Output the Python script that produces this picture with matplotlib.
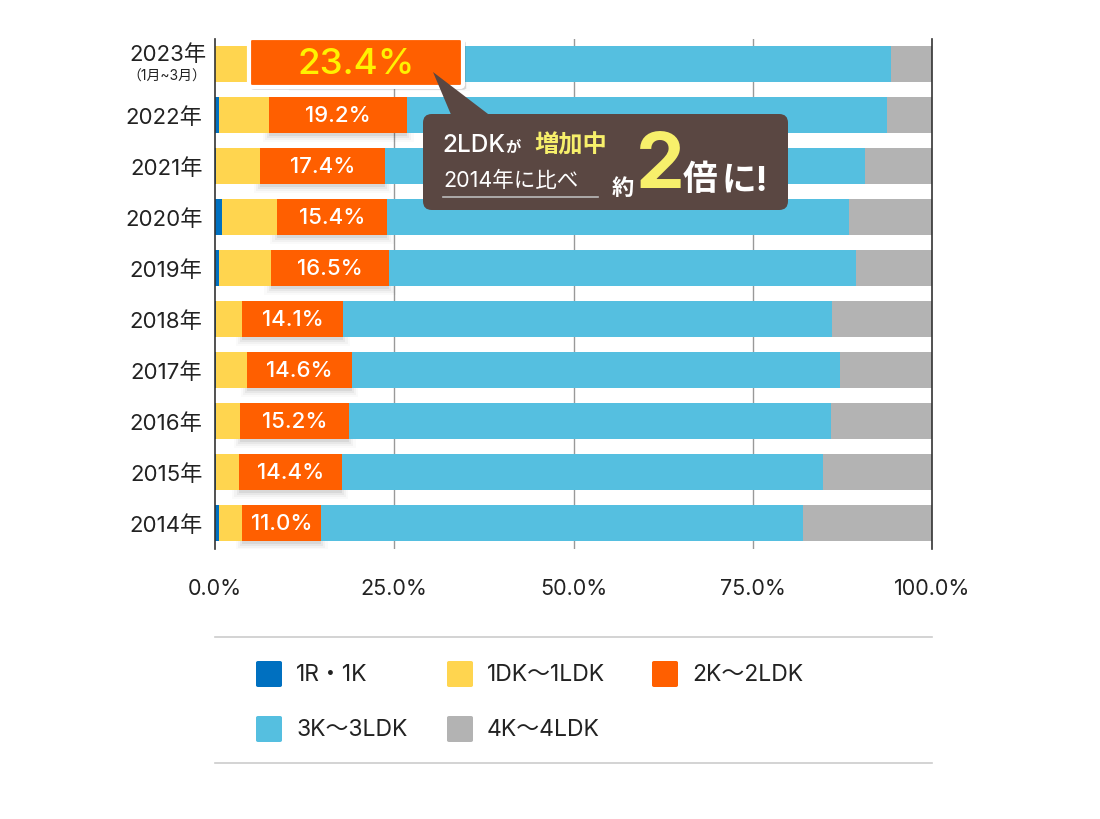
import matplotlib.pyplot as plt
from matplotlib.patches import FancyBboxPatch, Polygon
from matplotlib.lines import Line2D
import numpy as np

plt.rcParams['font.family'] = ['Inter', 'Noto Sans CJK JP', 'DejaVu Sans']

years = ["2023年", "2022年", "2021年", "2020年", "2019年",
         "2018年", "2017年", "2016年", "2015年", "2014年"]
r1k = [0.0, 0.5, 0.2, 1.0, 0.5, 0.2, 0.2, 0.2, 0.2, 0.5]
dk1 = [11.2, 7.1, 6.1, 7.6, 7.3, 3.6, 4.3, 3.3, 3.1, 3.3]
ldk2 = [23.4, 19.2, 17.4, 15.4, 16.5, 14.1, 14.6, 15.2, 14.4, 11.0]
ldk3 = [59.7, 66.9, 67.0, 64.4, 65.1, 68.2, 68.1, 67.2, 67.1, 67.2]
ldk4 = [5.7, 6.3, 9.3, 11.6, 10.6, 13.9, 12.8, 14.1, 15.2, 18.0]

names = ["1R・1K", "1DK～1LDK", "2K～2LDK", "3K～3LDK", "4K～4LDK"]
colors = ["#0070c0", "#ffd54f", "#ff5f00", "#55bfe0", "#b3b3b3"]
ticks = [0, 25, 50, 75, 100]

W, H = 1100, 820


def fx(px):
    return px / W


def fy(py):
    return 1 - py / H


fig = plt.figure(figsize=(11, 8.2), dpi=100)
ax = fig.add_axes([fx(215), fy(549.5), fx(932) - fx(215), fy(39.5) - fy(549.5)])

y = np.arange(len(years))
series = [r1k, dk1, ldk2, ldk3, ldk4]
left = np.zeros(len(years))
lefts = []
for vals, c in zip(series, colors):
    lefts.append(left.copy())
    ax.barh(y, vals, left=left, height=0.7, color=c, zorder=3)
    left = left + np.array(vals)

# soft shadow under the orange segments
orange_left = lefts[2]
for k, a in enumerate([0.06, 0.045, 0.03, 0.02]):
    ax.barh(y + 0.05 + 0.04 * k, np.array(ldk2) + 0.6 * k, left=orange_left - 0.3 * k,
            height=0.72, color="#000000", alpha=a, zorder=2, linewidth=0)

for i in range(1, len(years)):
    ax.text(orange_left[i] + ldk2[i] / 2, y[i], f"{ldk2[i]:.1f}%",
            ha="center", va="center", color="white", fontsize=16,
            fontweight="medium", zorder=5)

ax.set_xlim(0, 100)
ax.set_ylim(len(years) - 0.5, -0.5)
ax.set_xticks(ticks)
ax.set_xticklabels([f"{t:.1f}%" for t in ticks], fontsize=15.5, color="#222222")
ax.set_yticks(y)
ax.set_yticklabels([""] + years[1:], fontsize=16, color="#222222")
ax.tick_params(axis="both", length=0)
ax.tick_params(axis="x", pad=21)
ax.tick_params(axis="y", pad=9)
for s in ["top", "bottom"]:
    ax.spines[s].set_visible(False)
for s in ["left", "right"]:
    ax.spines[s].set_color("#333333")
    ax.spines[s].set_linewidth(1.2)
    ax.spines[s].set_zorder(6)
for t in ticks[1:-1]:
    ax.axvline(t, color="#999999", lw=1, zorder=1)

tr = ax.get_yaxis_transform()
ax.text(-0.0125, y[0] - 0.2, years[0], transform=tr, ha="right", va="center",
        fontsize=16, color="#222222")
ax.text(-0.0125, y[0] + 0.22, "（1月~3月）", transform=tr, ha="right", va="center",
        fontsize=10, color="#222222")

# 23.4% highlight box
fig.add_artist(FancyBboxPatch((fx(251), fy(91)), fx(466) - fx(251), fy(42) - fy(91),
                              boxstyle="round,pad=0,rounding_size=0.003",
                              transform=fig.transFigure, facecolor="#000000",
                              alpha=0.12, edgecolor="none", zorder=7))
fig.add_artist(FancyBboxPatch((fx(249), fy(88)), fx(463) - fx(249), fy(39) - fy(88),
                              boxstyle="round,pad=0,rounding_size=0.003",
                              transform=fig.transFigure, facecolor=colors[2],
                              edgecolor="white", linewidth=3, zorder=8))
fig.text(fx(356), fy(64), f"{ldk2[0]:.1f}%", ha="center", va="center",
         color="#fff200", fontsize=26.5, fontweight="medium", zorder=9)

# callout
brown = "#5a4742"
fig.add_artist(Polygon([(fx(433), fy(73)), (fx(452), fy(118)), (fx(492), fy(118))],
                       closed=True, transform=fig.transFigure, facecolor=brown,
                       edgecolor="none", zorder=9))
fig.add_artist(FancyBboxPatch((fx(423), fy(211)), fx(788) - fx(423), fy(115) - fy(211),
                              boxstyle="round,pad=0,rounding_size=0.008",
                              transform=fig.transFigure, facecolor=brown,
                              edgecolor="none", zorder=9, mutation_aspect=1100 / 820))
fig.text(fx(442), fy(146), "2LDK", ha="left", va="center", color="white",
         fontsize=17.5, fontweight="medium", zorder=10)
fig.text(fx(505), fy(148), "が", ha="left", va="center", color="white",
         fontsize=11, fontweight="bold", zorder=10)
fig.text(fx(534), fy(146), "増加中", ha="left", va="center", color="#f7f06b",
         fontsize=17.5, fontweight="bold", zorder=10)
fig.text(fx(443), fy(181), "2014年に比べ", ha="left", va="center", color="white",
         fontsize=15.5, zorder=10)
fig.add_artist(Line2D([fx(443), fx(598)], [fy(198), fy(198)], color="#bbbbbb",
                      lw=1.2, transform=fig.transFigure, zorder=10))
fig.text(fx(623), fy(189), "約", ha="center", va="center", color="white",
         fontsize=16, fontweight="bold", zorder=10)
fig.text(fx(660), fy(168), "2", ha="center", va="center", color="#f7f06b",
         fontsize=56, fontweight="bold", zorder=10)
fig.text(fx(700), fy(181), "倍", ha="center", va="center", color="white",
         fontsize=25, fontweight="bold", zorder=10)
fig.text(fx(745), fy(182), "に!", ha="center", va="center", color="white",
         fontsize=25, fontweight="bold", zorder=10)

# legend
for py in (638, 764):
    fig.add_artist(Line2D([fx(215), fx(932)], [fy(py), fy(py)], color="#cccccc",
                          lw=1.2, transform=fig.transFigure))
legend_pos = [(256, 675), (447, 675), (652, 675), (256, 730), (447, 730)]
for name, c, (px, py) in zip(names, colors, legend_pos):
    fig.add_artist(FancyBboxPatch((fx(px), fy(py + 13)), fx(26), 26 / H,
                                  boxstyle="round,pad=0,rounding_size=0.002",
                                  transform=fig.transFigure, facecolor=c,
                                  edgecolor="none"))
    fig.text(fx(px + 40), fy(py), name, ha="left", va="center", fontsize=16.5,
             color="#222222")

fig.savefig("out.png", dpi=100)
